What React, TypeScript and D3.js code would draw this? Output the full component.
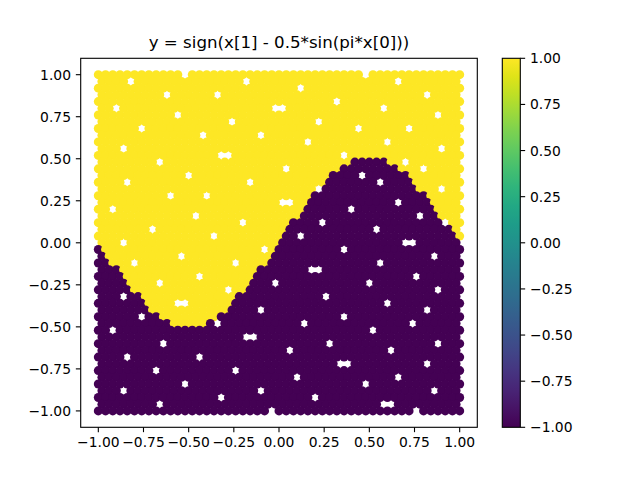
import React from "react";
import * as d3 from "d3";

// ---------- data ----------
const titleText = "y = sign(x[1] - 0.5*sin(pi*x[0]))";
const xTicks = [-1, -0.75, -0.5, -0.25, 0, 0.25, 0.5, 0.75, 1];
const yTicks = [-1, -0.75, -0.5, -0.25, 0, 0.25, 0.5, 0.75, 1];
const cbarTicks = [-1, -0.75, -0.5, -0.25, 0, 0.25, 0.5, 0.75, 1];
const colorRange = [-1, 1];

// Samples laid out on rows from y = 1 (top) to y = -1 (bottom), step 0.04.
// Even rows hold 51 samples starting at x = -1, odd rows 50 samples starting at x = -0.98.
const rowStep = 0.04;
const evenRowStartX = -1;
const oddRowStartX = -0.98;
// Per row: alternating run lengths of class +1 (yellow) then -1 (purple).
const rowRuns: number[][] = [
  [51], [50], [51], [50], [51], [50], [51], [50], [51], [50], // 0-9
  [51], [50], [51], [35, 5, 10], [34, 8, 9], [32, 11, 7], [32, 12, 7], [31, 13, 6], [30, 16, 5], [29, 17, 4], // 10-19
  [29, 18, 4], [28, 19, 3], [27, 22, 2], [26, 23, 1], [26, 24, 1], [25, 25], [0, 1, 24, 26], [0, 1, 23, 26], [0, 2, 22, 27], [0, 3, 19, 28], // 20-29
  [0, 4, 18, 29], [0, 4, 17, 29], [0, 5, 16, 30], [0, 6, 13, 31], [0, 7, 12, 32], [0, 7, 11, 32], [0, 9, 8, 34], [0, 10, 5, 35], [0, 51], [0, 50], // 30-39
  [0, 51], [0, 50], [0, 51], [0, 50], [0, 51], [0, 50], [0, 51], [0, 50], [0, 51], [0, 50], // 40-49
  [0, 51], // 50
];
// Empty spots (row, column) where no sample sits
const gapCells: [number, number][] = [
  [0, 12], [0, 37], [1, 4], [1, 20], [1, 41], [2, 28], [3, 9], [3, 16], [3, 45], [4, 33],
  [5, 2], [5, 24], [5, 25], [5, 39], [6, 11], [6, 47], [7, 30], [7, 18], [8, 6], [8, 36], [8, 43],
  [9, 14], [9, 22], [10, 40], [10, 29], [11, 3], [11, 47], [12, 17], [12, 18], [12, 34],
  [13, 8], [13, 42], [14, 26], [14, 45], [15, 12], [15, 36], [16, 4], [16, 21], [16, 39],
  [17, 30], [17, 47], [18, 10], [18, 15], [19, 25], [19, 26], [19, 41], [20, 2], [20, 35],
  [21, 13], [21, 44], [22, 20], [22, 31], [22, 48], [23, 7], [23, 38], [24, 16], [24, 28],
  [25, 3], [25, 42], [25, 43], [26, 23], [26, 34], [27, 11], [27, 46], [28, 5], [28, 19], [28, 39],
  [29, 29], [29, 30], [30, 14], [30, 44], [31, 8], [31, 24], [31, 37], [32, 18], [32, 47],
  [33, 3], [33, 31], [34, 11], [34, 12], [34, 40], [35, 22], [35, 45], [36, 6], [36, 34],
  [37, 16], [37, 28], [37, 43], [38, 2], [38, 38], [39, 20], [39, 21], [40, 9], [40, 32], [40, 47],
  [41, 26], [41, 40], [42, 4], [42, 14], [43, 33], [43, 34], [43, 45], [44, 19], [44, 8],
  [45, 27], [45, 41], [46, 12], [46, 37], [47, 3], [47, 22], [47, 46], [48, 30], [48, 17],
  [49, 8], [49, 39], [49, 40], [50, 24], [50, 44],
];

// ---------- layout ----------
const W = 640;
const H = 480;
const axL = 80.7, axR = 477.3, axT = 58.3, axB = 427.3;
const cbL = 502.3, cbR = 520.3;
const domain = [-1.0975, 1.0975];
const markerR = 4.5;
const tickLen = 4.86;
const tickFont = 13.89;
const fontFam = "DejaVu Sans, sans-serif";

const fmt = (v: number) => {
  const s = v.toFixed(2);
  return s.startsWith("-") ? "\u2212" + s.slice(1) : s;
};

type Pt = { x: number; y: number; v: number };

function buildPoints(): Pt[] {
  const gapSet = new Set(gapCells.map(([r, c]) => `${r}-${c}`));
  const pts: Pt[] = [];
  rowRuns.forEach((runs, r) => {
    const y = 1 - r * rowStep;
    const startX = r % 2 === 0 ? evenRowStartX : oddRowStartX;
    let col = 0;
    runs.forEach((len, k) => {
      const v = k % 2 === 0 ? 1 : -1;
      for (let n = 0; n < len; n++) {
        if (!gapSet.has(`${r}-${col}`)) {
          pts.push({ x: startX + col * rowStep, y, v });
        }
        col++;
      }
    });
  });
  return pts;
}

export default function App() {
  const xs = d3.scaleLinear().domain(domain).range([axL, axR]);
  const ys = d3.scaleLinear().domain(domain).range([axB, axT]);
  const cs = d3.scaleLinear().domain(colorRange).range([axB, axT]);
  const color = d3.scaleSequential(d3.interpolateViridis).domain(colorRange as [number, number]);
  const pts = buildPoints();
  const stops = d3.range(0, 1.0001, 0.05);

  return (
    <svg width={W} height={H} style={{ position: "absolute", left: 0, top: 0, background: "#fff" }}>
      <defs>
        <linearGradient id="vir" x1="0" y1="1" x2="0" y2="0">
          {stops.map((t) => (
            <stop key={t} offset={t} stopColor={d3.interpolateViridis(t)} />
          ))}
        </linearGradient>
      </defs>
      <rect x={0} y={0} width={W} height={H} fill="#fff" />
      <g>
        {pts.map((p, i) => (
          <circle key={i} cx={xs(p.x)} cy={ys(p.y)} r={markerR} fill={color(p.v)} />
        ))}
      </g>
      <rect x={axL} y={axT} width={axR - axL} height={axB - axT} fill="none" stroke="#000" strokeWidth={1.1} />
      {xTicks.map((t) => (
        <g key={"x" + t}>
          <line x1={xs(t)} x2={xs(t)} y1={axB} y2={axB + tickLen} stroke="#000" strokeWidth={1.1} />
          <text x={xs(t)} y={axB + 20} fontSize={tickFont} fontFamily={fontFam} textAnchor="middle">
            {fmt(t)}
          </text>
        </g>
      ))}
      {yTicks.map((t) => (
        <g key={"y" + t}>
          <line x1={axL - tickLen} x2={axL} y1={ys(t)} y2={ys(t)} stroke="#000" strokeWidth={1.1} />
          <text x={axL - 9.7} y={ys(t)} dy="0.36em" fontSize={tickFont} fontFamily={fontFam} textAnchor="end">
            {fmt(t)}
          </text>
        </g>
      ))}
      <text x={(axL + axR) / 2} y={48} fontSize={16.67} fontFamily={fontFam} textAnchor="middle">
        {titleText}
      </text>
      <rect x={cbL} y={axT} width={cbR - cbL} height={axB - axT} fill="url(#vir)" />
      <rect x={cbL} y={axT} width={cbR - cbL} height={axB - axT} fill="none" stroke="#000" strokeWidth={1.1} />
      {cbarTicks.map((t) => (
        <g key={"c" + t}>
          <line x1={cbR} x2={cbR + tickLen} y1={cs(t)} y2={cs(t)} stroke="#000" strokeWidth={1.1} />
          <text x={cbR + 9.7} y={cs(t)} dy="0.36em" fontSize={tickFont} fontFamily={fontFam} textAnchor="start">
            {fmt(t)}
          </text>
        </g>
      ))}
    </svg>
  );
}
